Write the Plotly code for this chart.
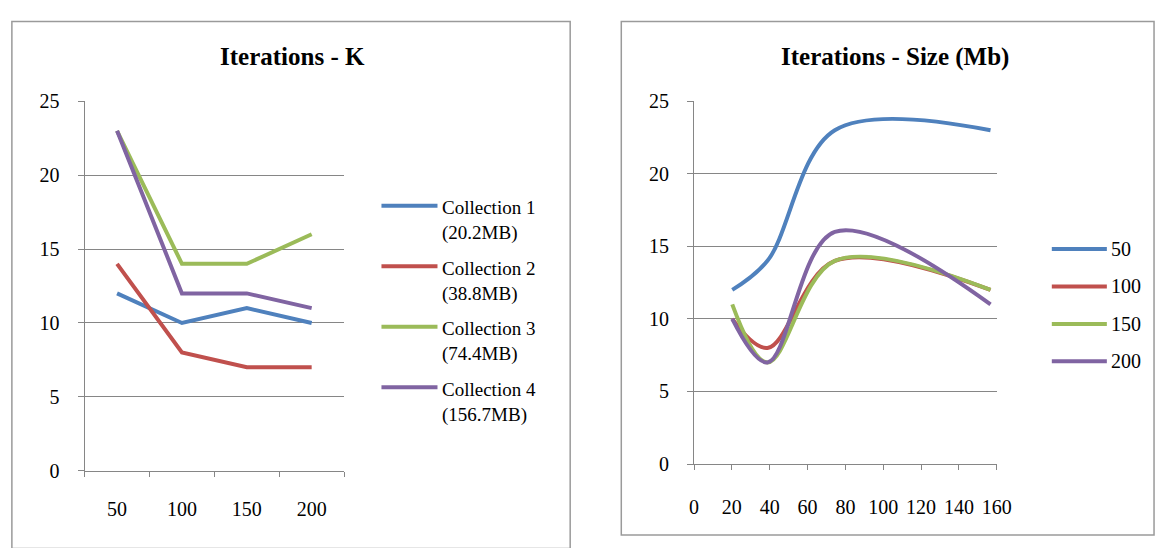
import plotly.graph_objects as go

# Iteration counts per document collection, for each value of K
k_values = ["50", "100", "150", "200"]
collection_names = ["Collection 1", "Collection 2", "Collection 3", "Collection 4"]
collection_sizes_mb = [20.2, 38.8, 74.4, 156.7]
iters_collection_1 = [12, 10, 11, 10]
iters_collection_2 = [14, 8, 7, 7]
iters_collection_3 = [23, 14, 14, 16]
iters_collection_4 = [23, 12, 12, 11]
iterations = [iters_collection_1, iters_collection_2, iters_collection_3, iters_collection_4]

series_colors = ["#4F81BD", "#C0504D", "#9BBB59", "#8064A2"]

W, H = 1171, 548
FONT = "'Liberation Serif', 'Times New Roman', Times, 'DejaVu Serif', serif"
GRID = "#868686"
BORDER = "#9A9A9A"


def px(x):
    return x / W


def py(y):
    return 1 - y / H


fig = go.Figure()

# Left chart: iterations against K, one line per collection
for name, vals, color in zip(collection_names, iterations, series_colors):
    fig.add_trace(go.Scatter(
        x=k_values, y=vals, xaxis="x", yaxis="y", mode="lines", name=name,
        line=dict(color=color, width=4), showlegend=False,
    ))

# Right chart: iterations against collection size, one smoothed line per K
for j, (k, color) in enumerate(zip(k_values, series_colors)):
    fig.add_trace(go.Scatter(
        x=collection_sizes_mb, y=[row[j] for row in iterations],
        xaxis="x2", yaxis="y2", mode="lines", name=k,
        line=dict(color=color, width=4, shape="spline", smoothing=1),
        showlegend=False,
    ))

axis_common = dict(
    showline=True, linecolor=GRID, linewidth=1,
    ticks="outside", tickcolor=GRID, tickwidth=1,
    tickfont=dict(family=FONT, size=20, color="#000000"),
    zeroline=False, fixedrange=True,
)

fig.update_layout(
    width=W, height=H,
    margin=dict(l=0, r=0, t=0, b=0),
    paper_bgcolor="white", plot_bgcolor="white",
    font=dict(family=FONT, color="#000000"),
    xaxis=dict(
        axis_common, type="category", domain=[px(81), px(345)],
        range=[-0.5, 3.5], tickson="boundaries", ticklen=5,
        showgrid=False, anchor="y", ticklabelstandoff=20,
    ),
    yaxis=dict(
        axis_common, domain=[py(479), py(94)], range=[0, 25], dtick=5,
        showgrid=True, gridcolor=GRID, gridwidth=1, ticklen=6,
        anchor="x", ticklabelstandoff=14,
    ),
    xaxis2=dict(
        axis_common, domain=[px(701), px(1009)], range=[0, 160], dtick=20,
        ticklen=5, showgrid=False, anchor="y2", ticklabelstandoff=20,
    ),
    yaxis2=dict(
        axis_common, domain=[py(472), py(94)], range=[0, 25], dtick=5,
        showgrid=True, gridcolor=GRID, gridwidth=1, ticklen=6,
        anchor="x2", ticklabelstandoff=14,
    ),
    showlegend=False,
)

shapes = []
annotations = []

# Chart frames
shapes.append(dict(type="rect", xref="paper", yref="paper",
                   x0=px(7), x1=px(575), y0=py(560), y1=py(11),
                   line=dict(color=BORDER, width=1.5), layer="below"))
shapes.append(dict(type="rect", xref="paper", yref="paper",
                   x0=px(627), x1=px(1169), y0=py(546), y1=py(11),
                   line=dict(color=BORDER, width=1.5), layer="below"))

# Titles
title_font = dict(family=FONT, size=25, color="#000000", weight="bold")
annotations.append(dict(text="Iterations - K", x=px(292), y=py(47),
                        xref="paper", yref="paper", showarrow=False,
                        xanchor="center", yanchor="middle", font=title_font))
annotations.append(dict(text="Iterations - Size (Mb)", x=px(905), y=py(48),
                        xref="paper", yref="paper", showarrow=False,
                        xanchor="center", yanchor="middle", font=title_font))

label_font = dict(family=FONT, size=19, color="#000000")

# Left legend: collection name with its size underneath
for i, (name, size, color) in enumerate(zip(collection_names, collection_sizes_mb, series_colors)):
    yl = 203 + i * 63
    shapes.append(dict(type="line", xref="paper", yref="paper",
                       x0=px(383), x1=px(440), y0=py(yl), y1=py(yl),
                       line=dict(color=color, width=4)))
    annotations.append(dict(text=f"{name}<br>({size}MB)", x=px(443), y=py(yl - 11),
                            xref="paper", yref="paper", showarrow=False,
                            xanchor="left", yanchor="top", align="left",
                            font=label_font))

# Right legend: one entry per K
for i, (k, color) in enumerate(zip(k_values, series_colors)):
    yl = 248 + i * 39
    shapes.append(dict(type="line", xref="paper", yref="paper",
                       x0=px(1065), x1=px(1121), y0=py(yl), y1=py(yl),
                       line=dict(color=color, width=4)))
    annotations.append(dict(text=k, x=px(1123), y=py(yl),
                            xref="paper", yref="paper", showarrow=False,
                            xanchor="left", yanchor="middle",
                            font=dict(label_font, size=20)))

fig.update_layout(shapes=shapes, annotations=annotations)

fig.write_html("out.html")
